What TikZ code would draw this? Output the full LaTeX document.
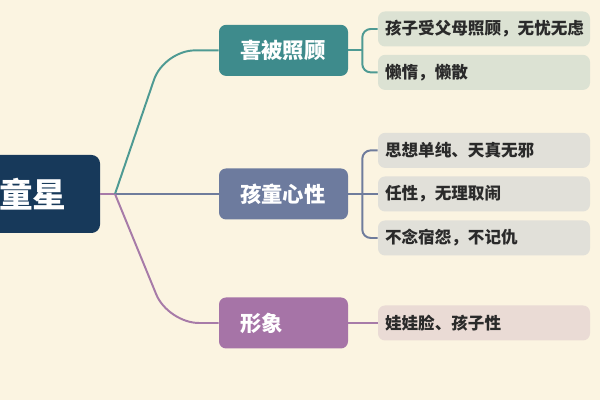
\documentclass[tikz,border=0pt]{standalone}
\usepackage{fontspec}
\setmainfont{Noto Sans CJK SC}
\usetikzlibrary{positioning,calc}
\definecolor{mmbg}{HTML}{FBF4E1}
\definecolor{navy}{HTML}{17395A}
\definecolor{teal}{HTML}{3E8B8C}
\definecolor{slate}{HTML}{6D7B9E}
\definecolor{plum}{HTML}{A674A7}
\definecolor{tealln}{HTML}{4E9A93}
\definecolor{slateln}{HTML}{6F7C9C}
\definecolor{plumln}{HTML}{A77BA8}
\definecolor{leafgreen}{HTML}{DCE2D3}
\definecolor{leafgrey}{HTML}{E1E0D9}
\definecolor{leafpink}{HTML}{EADBD5}
\definecolor{ink}{HTML}{2A2A2A}
\tikzset{
  rootbox/.style={fill=navy, rounded corners=6pt, minimum width=3.35cm, minimum height=1.95cm,
                  text=white, font=\fontsize{24}{28}\selectfont\bfseries},
  topicbox/.style={rounded corners=5pt, minimum width=3.225cm, minimum height=1.275cm,
                   inner xsep=0.525cm, text width=2.175cm, align=left,
                   text=white, font=\fontsize{15.2}{18}\selectfont\bfseries},
  leafbox/.style={rounded corners=5pt, minimum width=5.3cm, minimum height=0.875cm,
                  inner xsep=0.175cm, text width=4.95cm, align=left,
                  text=ink, font=\fontsize{11.8}{14}\selectfont\bfseries},
  link/.style={line width=1.4pt}}

\begin{document}
\begin{tikzpicture}
  \fill[mmbg] (0,0) rectangle (15,10);
  \useasboundingbox (0,0) rectangle (15,10);
  % root
  \node[rootbox] (root) at (0.825,5.15) {童星};
  \coordinate (rootfork) at (2.875,5.15);
  % topics
  \node[topicbox, fill=teal]  (care)  at (7.0875,8.74)  {喜被照顾};
  \node[topicbox, fill=slate] (mind)  at (7.0875,5.15)  {孩童心性};
  \node[topicbox, fill=plum]  (image) at (7.0875,1.925) {形象};
  % leaves
  \node[leafbox, fill=leafgreen] (care1)  at (12.1,9.275) {孩子受父母照顾，无忧无虑};
  \node[leafbox, fill=leafgreen] (care2)  at (12.1,8.19)  {懒惰，懒散};
  \node[leafbox, fill=leafgrey]  (mind1)  at (12.1,6.24)  {思想单纯、天真无邪};
  \node[leafbox, fill=leafgrey]  (mind2)  at (12.1,5.15)  {任性，无理取闹};
  \node[leafbox, fill=leafgrey]  (mind3)  at (12.1,4.05)  {不念宿怨，不记仇};
  \node[leafbox, fill=leafpink]  (image1) at (12.1,1.925) {娃娃脸、孩子性};
  % root to topics
  \draw[link, plumln] (root.east) -- (rootfork);
  \draw[link, tealln, rounded corners=22pt] (rootfork) -- (4.1,8.74) -- (care.west);
  \draw[link, slateln] (rootfork) -- (mind.west);
  \draw[link, plumln, rounded corners=22pt] (rootfork) -- (4.2,1.925) -- (image.west);
  % topics to leaves
  \coordinate (carefork) at ($(care.east)+(0.35,0)$);
  \coordinate (mindfork) at ($(mind.east)+(0.35,0)$);
  \draw[link, tealln] (care.east) -- (carefork);
  \draw[link, tealln, rounded corners=6pt] (care1.west) -| (carefork) |- (care2.west);
  \draw[link, slateln] (mind.east) -- (mind2.west);
  \draw[link, slateln, rounded corners=6pt] (mind1.west) -| (mindfork) |- (mind3.west);
  \draw[link, plumln] (image.east) -- (image1.west);
\end{tikzpicture}
\end{document}
